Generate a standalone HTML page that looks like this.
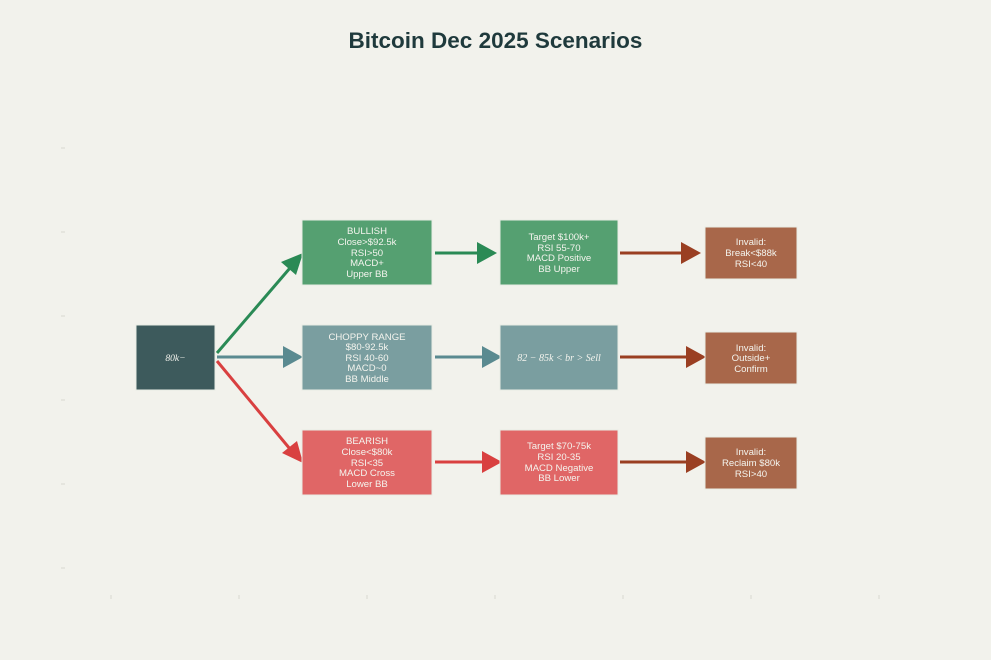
<!DOCTYPE html>
<html><head><meta charset="utf-8"><style>
html,body{margin:0;background:#f2f2ec;overflow:hidden;}
svg{display:block;}
svg text{font-family:"Liberation Sans",sans-serif;}
</style></head><body>
<svg width="991" height="660" viewBox="0 0 991 660" xmlns="http://www.w3.org/2000/svg">
<rect width="991" height="660" fill="#f2f2ec"/>
<text x="495.5" y="48" text-anchor="middle" font-size="22.5" font-weight="bold" fill="#1f3a3c">Bitcoin Dec 2025 Scenarios</text>
<g stroke="#d8d8d0" stroke-width="1">
<line x1="61" y1="148" x2="65" y2="148"/><line x1="61" y1="232" x2="65" y2="232"/><line x1="61" y1="316" x2="65" y2="316"/><line x1="61" y1="400" x2="65" y2="400"/><line x1="61" y1="484" x2="65" y2="484"/><line x1="61" y1="568" x2="65" y2="568"/>
<line x1="111" y1="595" x2="111" y2="599"/><line x1="239" y1="595" x2="239" y2="599"/><line x1="367" y1="595" x2="367" y2="599"/><line x1="495" y1="595" x2="495" y2="599"/><line x1="623" y1="595" x2="623" y2="599"/><line x1="751" y1="595" x2="751" y2="599"/><line x1="879" y1="595" x2="879" y2="599"/>
</g>
<g stroke-width="3">
<line x1="217" y1="353" x2="290" y2="268" stroke="#2a8a55"/>
<line x1="217" y1="357" x2="286" y2="357" stroke="#5a8a90"/>
<line x1="217" y1="361" x2="290" y2="449" stroke="#d94040"/>
<line x1="435" y1="253" x2="478" y2="253" stroke="#2a8a55"/>
<line x1="435" y1="357" x2="484" y2="357" stroke="#5a8a90"/>
<line x1="435" y1="462" x2="484" y2="462" stroke="#d94040"/>
<line x1="620" y1="253" x2="683" y2="253" stroke="#9a3f22"/>
<line x1="620" y1="357" x2="688" y2="357" stroke="#9a3f22"/>
<line x1="620" y1="462" x2="688" y2="462" stroke="#9a3f22"/>
</g>
<polygon points="303,253 281,262 296,275" fill="#2a8a55"/>
<polygon points="303,357 283,346 283,368" fill="#5a8a90"/>
<polygon points="303,463 297,441 282,453" fill="#d94040"/>
<polygon points="497,253 477,242 477,264" fill="#2a8a55"/>
<polygon points="502,357 482,346 482,368" fill="#5a8a90"/>
<polygon points="502,462 482,451 482,473" fill="#d94040"/>
<polygon points="701,253 681,242 681,264" fill="#9a3f22"/>
<polygon points="706,357 686,346 686,368" fill="#9a3f22"/>
<polygon points="706,462 686,451 686,473" fill="#9a3f22"/>
<g stroke="#e8ece4" stroke-width="1">
<rect x="136" y="325" width="79" height="65" fill="#3d5a5c"/>
<rect x="302" y="220" width="130" height="65" fill="#55a071"/>
<rect x="500" y="220" width="118" height="65" fill="#55a071"/>
<rect x="705" y="227" width="92" height="52" fill="#a8674a"/>
<rect x="302" y="325" width="130" height="65" fill="#7a9ea0"/>
<rect x="500" y="325" width="118" height="65" fill="#7a9ea0"/>
<rect x="705" y="332" width="92" height="52" fill="#a8674a"/>
<rect x="302" y="430" width="130" height="65" fill="#e06666"/>
<rect x="500" y="430" width="118" height="65" fill="#e06666"/>
<rect x="705" y="437" width="92" height="52" fill="#a8674a"/>
</g>
<g fill="#f4f4ee" font-size="9.6" text-anchor="middle">
<text x="175.5" y="361" font-style="italic" style="font-family:'Liberation Serif',serif">80k−</text>
<text x="367" y="234">BULLISH</text><text x="367" y="245">Close&gt;$92.5k</text><text x="367" y="256">RSI&gt;50</text><text x="367" y="266">MACD+</text><text x="367" y="277">Upper BB</text>
<text x="559" y="240">Target $100k+</text><text x="559" y="251">RSI 55-70</text><text x="559" y="261">MACD Positive</text><text x="559" y="272">BB Upper</text>
<text x="751" y="245">Invalid:</text><text x="751" y="256">Break&lt;$88k</text><text x="751" y="267">RSI&lt;40</text>
<text x="367" y="340">CHOPPY RANGE</text><text x="367" y="350">$80-92.5k</text><text x="367" y="361">RSI 40-60</text><text x="367" y="371">MACD~0</text><text x="367" y="382">BB Middle</text>
<text x="559" y="361" font-style="italic" font-size="10" style="font-family:'Liberation Serif',serif">82 − 85k &lt; br &gt; Sell</text>
<text x="751" y="351">Invalid:</text><text x="751" y="361">Outside+</text><text x="751" y="372">Confirm</text>
<text x="367" y="444">BEARISH</text><text x="367" y="455">Close&lt;$80k</text><text x="367" y="466">RSI&lt;35</text><text x="367" y="476">MACD Cross</text><text x="367" y="487">Lower BB</text>
<text x="559" y="449">Target $70-75k</text><text x="559" y="460">RSI 20-35</text><text x="559" y="471">MACD Negative</text><text x="559" y="481">BB Lower</text>
<text x="751" y="455">Invalid:</text><text x="751" y="466">Reclaim $80k</text><text x="751" y="477">RSI&gt;40</text>
</g>
</svg>
</body></html>
